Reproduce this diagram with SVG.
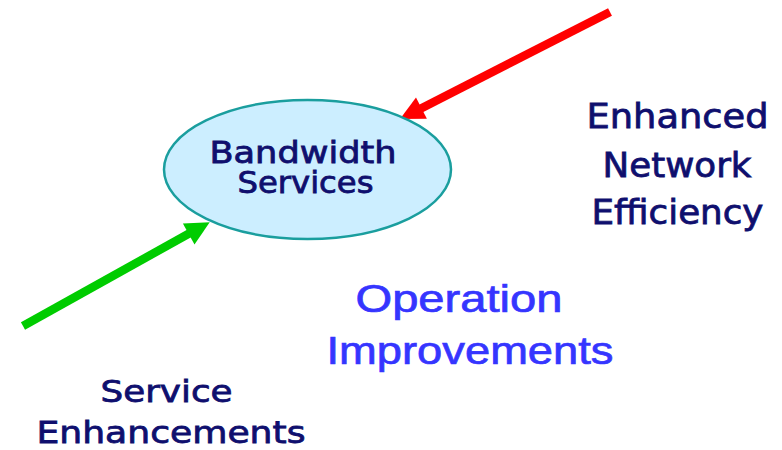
<svg xmlns="http://www.w3.org/2000/svg" width="782" height="450" viewBox="0 0 782 450">
<style>
.navy{font-family:"DejaVu Sans","Verdana",sans-serif;fill:#0f0f6e;stroke:#0f0f6e;stroke-width:0.8;text-anchor:middle}
.blue{font-family:"Liberation Sans","Arial",sans-serif;fill:#3535ff;stroke:#3535ff;stroke-width:0.7;text-anchor:middle}
.shaft{fill:none;stroke-width:8.5;stroke-linecap:butt}
</style>
<rect width="782" height="450" fill="#ffffff"/>
<g id="connectors">
  <g id="red-arrow">
    <line class="shaft" x1="610" y1="12" x2="420" y2="109" stroke="#ff0000"/>
    <polygon points="400,119 416,97.4 426.9,118.8" fill="#ff0000"/>
  </g>
  <g id="green-arrow">
    <line class="shaft" x1="23" y1="326" x2="190" y2="233" stroke="#00cc00"/>
    <polygon points="209.7,222.3 182.9,223.5 194.5,244.5" fill="#00cc00"/>
  </g>
</g>
<g id="bandwidth-services">
  <ellipse cx="307.5" cy="169.5" rx="143.5" ry="69.5" fill="#cceeff" stroke="#1a9e9e" stroke-width="2.5"/>
  <text class="navy" font-size="30" x="303" y="162.7" textLength="187" lengthAdjust="spacingAndGlyphs">Bandwidth</text>
  <text class="navy" font-size="30" x="305.5" y="193.3" textLength="136" lengthAdjust="spacingAndGlyphs">Services</text>
</g>
<g id="enhanced-network-efficiency">
  <text class="navy" font-size="34.5" x="677.5" y="127.7" textLength="182" lengthAdjust="spacingAndGlyphs">Enhanced</text>
  <text class="navy" font-size="34.5" x="677" y="177.3" textLength="149" lengthAdjust="spacingAndGlyphs">Network</text>
  <text class="navy" font-size="34.5" x="677.5" y="224" textLength="172" lengthAdjust="spacingAndGlyphs">Efficiency</text>
</g>
<g id="operation-improvements">
  <text class="blue" font-size="39" x="459" y="311.7" textLength="207" lengthAdjust="spacingAndGlyphs">Operation</text>
  <text class="blue" font-size="39" x="470" y="364.3" textLength="287" lengthAdjust="spacingAndGlyphs">Improvements</text>
</g>
<g id="service-enhancements">
  <text class="navy" font-size="31" x="166.5" y="401.7" textLength="132" lengthAdjust="spacingAndGlyphs">Service</text>
  <text class="navy" font-size="31" x="171" y="443" textLength="269" lengthAdjust="spacingAndGlyphs">Enhancements</text>
</g>
</svg>
